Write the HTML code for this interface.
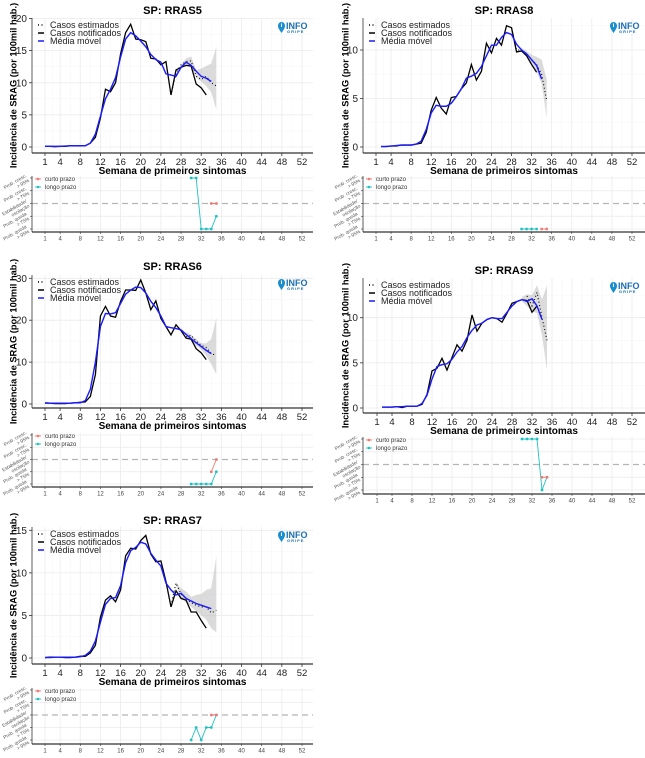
<!DOCTYPE html>
<html><head><meta charset="utf-8">
<style>
html,body{margin:0;padding:0;background:#fff;}
svg{display:block;font-family:"Liberation Sans",sans-serif;}
</style></head>
<body>
<svg id="chart" width="645" height="758" viewBox="0 0 645 758" xmlns="http://www.w3.org/2000/svg"></svg>
<script>
// ---------- data ----------
const weekTicks = [1,4,8,12,16,20,24,28,32,36,40,44,48,52];
const trendLabels = [["Prob. cresc.","> 95%"],["Prob. cresc.","> 75%"],["Estabilidade/","oscilação"],["Prob. queda","> 75%"],["Prob. queda","> 95%"]];
const panelTitles = ["SP: RRAS5","SP: RRAS8","SP: RRAS6","SP: RRAS9","SP: RRAS7"];

// RRAS5
const rras5Start = 1;
const rras5Notified = [0.1,0.1,0.05,0.1,0.1,0.2,0.2,0.2,0.2,0.6,1.5,4.5,9.0,8.6,10.0,14.5,17.8,19.1,16.8,16.7,16.4,13.8,13.7,12.8,13.3,8.1,12.0,12.4,12.7,12.6,9.8,9.2,8.1];
const rras5EstStart = 26;
const rras5Estimated = [8.1,11.5,12.8,13.3,13.4,11.0,10.5,11.0,10.0,9.5];
const rras5MA = [0.1,0.1,0.1,0.1,0.15,0.2,0.2,0.2,0.2,0.6,2.0,4.8,7.5,9.0,10.8,14.0,16.8,17.8,17.3,16.5,15.6,14.4,13.6,13.2,11.4,11.2,11.0,12.4,13.2,12.7,11.8,11.0,10.7,10.2];
const rras5CIStart = 27;
const rras5CILo = [11.0,12.2,12.8,12.5,10.8,10.2,9.5,8.5,5.8];
const rras5CIHi = [11.2,12.8,13.8,14.1,12.0,12.2,12.6,13.0,15.6];
const rras5LongWeeks = [30,31,32,33,34,35];
const rras5Long = [2,2,-2,-2,-2,-1];
const rras5ShortWeeks = [34,35];
const rras5Short = [0,0];
const rras5YTicks = [0,5,10,15,20];

// RRAS8
const rras8Start = 2;
const rras8Notified = [0.05,0.05,0.1,0.1,0.2,0.2,0.2,0.3,0.4,1.5,3.8,5.1,4.0,3.4,5.1,5.2,6.0,6.6,8.5,6.9,7.8,10.7,9.7,11.2,10.5,12.5,12.3,9.8,9.9,9.4,8.5,7.7];
const rras8EstStart = 28;
const rras8Estimated = [12.3,10.0,10.0,9.6,9.0,8.5,7.5,4.8];
const rras8MA = [0.05,0.05,0.1,0.15,0.2,0.2,0.2,0.3,0.6,1.8,3.5,4.3,4.2,4.2,4.5,5.2,6.0,7.1,7.3,7.6,8.3,9.4,10.5,10.5,11.3,11.8,11.6,10.6,10.0,9.6,9.0,8.4,7.0];
const rras8CIStart = 30;
const rras8CILo = [9.8,9.3,8.5,7.8,6.5,3.0];
const rras8CIHi = [10.2,9.9,9.5,9.3,9.0,7.0];
const rras8LongWeeks = [30,31,32,33];
const rras8Long = [-2,-2,-2,-2];
const rras8ShortWeeks = [34,35];
const rras8Short = [-2,-2];
const rras8YTicks = [0,5,10];

// RRAS6
const rras6Start = 1;
const rras6Notified = [0.3,0.2,0.1,0.1,0.1,0.2,0.3,0.4,0.5,1.8,7.0,21.0,23.3,21.0,20.7,24.5,27.2,27.2,27.1,29.6,26.5,22.5,24.6,20.4,18.5,16.5,18.9,17.5,15.7,15.5,13.2,12.2,10.6];
const rras6EstStart = 29;
const rras6Estimated = [16.0,16.4,15.0,14.0,13.5,12.0,11.6];
const rras6MA = [0.2,0.2,0.2,0.2,0.2,0.2,0.3,0.3,0.8,3.5,10.0,18.5,21.6,21.5,21.8,24.0,26.2,27.2,27.9,27.8,26.5,24.5,23.0,21.0,18.5,18.2,18.0,17.7,16.6,15.6,14.6,13.7,12.8,12.0];
const rras6CIStart = 29;
const rras6CILo = [16.0,15.0,14.0,13.0,11.5,9.5,7.0];
const rras6CIHi = [17.2,16.5,15.5,14.5,14.5,15.5,20.6];
const rras6LongWeeks = [30,31,32,33,34,35];
const rras6Long = [-2,-2,-2,-2,-2,-1];
const rras6ShortWeeks = [34,35];
const rras6Short = [-1,0];
const rras6YTicks = [0,10,20,30];

// RRAS9
const rras9Start = 2;
const rras9Notified = [0.1,0.1,0.1,0.15,0.05,0.2,0.2,0.2,0.4,1.5,4.1,4.4,5.5,4.2,5.6,7.0,6.3,7.5,10.3,8.5,9.4,9.8,10.0,9.9,9.5,10.5,11.6,11.8,12.0,11.9,10.6,11.3];
const rras9EstStart = 31;
const rras9Estimated = [12.4,11.3,12.8,10.0,7.5];
const rras9MA = [0.1,0.1,0.1,0.15,0.15,0.2,0.2,0.2,0.5,1.4,3.2,4.6,4.8,4.9,5.4,6.2,6.8,7.8,8.6,9.2,9.4,9.8,10.0,9.9,9.9,10.6,11.3,11.8,12.0,11.8,12.1,11.3,9.8];
const rras9CIStart = 30;
const rras9CILo = [11.8,11.3,10.7,10.5,8.0,4.2];
const rras9CIHi = [12.3,12.6,12.5,13.6,12.0,13.6];
const rras9LongWeeks = [30,31,32,33,34,35];
const rras9Long = [2,2,2,2,-2,-1];
const rras9ShortWeeks = [34,35];
const rras9Short = [-1,-1];
const rras9YTicks = [0,5,10];

// RRAS7
const rras7Start = 1;
const rras7Notified = [0.05,0.1,0.1,0.1,0.05,0.05,0.1,0.2,0.2,0.6,1.5,4.8,6.8,7.3,6.6,8.0,12.0,12.9,12.8,13.8,14.4,12.2,11.3,11.4,9.0,6.0,7.9,7.0,6.8,5.4,5.4,4.4,3.5];
const rras7EstStart = 26;
const rras7Estimated = [6.2,8.8,7.5,7.0,6.5,6.2,6.0,6.0,5.3,5.6];
const rras7MA = [0.05,0.05,0.1,0.1,0.1,0.1,0.1,0.15,0.3,0.8,2.0,4.2,6.3,7.0,7.1,8.5,11.2,12.6,13.0,13.6,13.4,12.3,11.5,10.8,8.8,8.0,7.4,7.6,7.0,6.7,6.4,6.2,6.0,5.8];
const rras7CIStart = 27;
const rras7CILo = [8.5,7.0,6.5,6.0,5.5,5.0,4.5,3.5,3.0];
const rras7CIHi = [8.9,8.2,7.8,7.2,7.4,7.5,8.0,8.2,12.0];
const rras7LongWeeks = [30,31,32,33,34,35];
const rras7Long = [-2,-1,-2,-1,-1,0];
const rras7ShortWeeks = [34,35];
const rras7Short = [0,0];
const rras7YTicks = [0,5,10,15];

// ---------- layout ----------
const panels = [
 {title:panelTitles[0],key:"rras5",start:rras5Start,not:rras5Notified,estStart:rras5EstStart,est:rras5Estimated,ma:rras5MA,ciStart:rras5CIStart,ciLo:rras5CILo,ciHi:rras5CIHi,lw:rras5LongWeeks,lv:rras5Long,sw:rras5ShortWeeks,sv:rras5Short,yt:rras5YTicks,
  L:32,R:313,T:18,AY:153,y0:147,rv:20,rp:18.5,x1:45,x52:302,trT:178,trB:229,trA:232,titleY:14,ylx:13},
 {title:panelTitles[1],key:"rras8",start:rras8Start,not:rras8Notified,estStart:rras8EstStart,est:rras8Estimated,ma:rras8MA,ciStart:rras8CIStart,ciLo:rras8CILo,ciHi:rras8CIHi,lw:rras8LongWeeks,lv:rras8Long,sw:rras8ShortWeeks,sv:rras8Short,yt:rras8YTicks,
  L:363,R:645,T:18,AY:153,y0:147,rv:10,rp:50,x1:376,x52:632,trT:178,trB:229,trA:232,titleY:14,ylx:345},
 {title:panelTitles[2],key:"rras6",start:rras6Start,not:rras6Notified,estStart:rras6EstStart,est:rras6Estimated,ma:rras6MA,ciStart:rras6CIStart,ciLo:rras6CILo,ciHi:rras6CIHi,lw:rras6LongWeeks,lv:rras6Long,sw:rras6ShortWeeks,sv:rras6Short,yt:rras6YTicks,
  L:32,R:313,T:275,AY:408,y0:404,rv:30,rp:278.3,x1:45,x52:302,trT:435,trB:484,trA:487,titleY:270,ylx:13},
 {title:panelTitles[3],key:"rras9",start:rras9Start,not:rras9Notified,estStart:rras9EstStart,est:rras9Estimated,ma:rras9MA,ciStart:rras9CIStart,ciLo:rras9CILo,ciHi:rras9CIHi,lw:rras9LongWeeks,lv:rras9Long,sw:rras9ShortWeeks,sv:rras9Short,yt:rras9YTicks,
  L:363,R:645,T:278,AY:413,y0:408,rv:10,rp:317.7,x1:377,x52:632,trT:439,trB:490,trA:494,titleY:274,ylx:345},
 {title:panelTitles[4],key:"rras7",start:rras7Start,not:rras7Notified,estStart:rras7EstStart,est:rras7Estimated,ma:rras7MA,ciStart:rras7CIStart,ciLo:rras7CILo,ciHi:rras7CIHi,lw:rras7LongWeeks,lv:rras7Long,sw:rras7ShortWeeks,sv:rras7Short,yt:rras7YTicks,
  L:32,R:313,T:527,AY:664,y0:658,rv:15,rp:530.3,x1:45,x52:302,trT:690,trB:740,trA:744,titleY:524,ylx:13}
];

const NS="http://www.w3.org/2000/svg";
const svg=document.getElementById("chart");
function el(tag,attrs,parent,text){const e=document.createElementNS(NS,tag);for(const k in attrs)e.setAttribute(k,attrs[k]);if(text!==undefined)e.textContent=text;(parent||svg).appendChild(e);return e;}

panels.forEach(p=>{
  const g=el("g",{});
  
  
  const xs=w=>p.x1+(w-1)*(p.x52-p.x1)/51;
  const ys=v=>p.y0-(v)*(p.y0-p.rp)/p.rv;
  const ty=l=>p.trT+(2-l)*(p.trB-p.trT)/4;
  const grid=el("g",{},g);
  
  
  for(let i=0;i<weekTicks.length;i++){
    const x=xs(weekTicks[i]);
    el("line",{x1:x,x2:x,y1:p.T,y2:p.AY,stroke:"#ebebeb","stroke-width":0.8},grid);
    el("line",{x1:x,x2:x,y1:p.trT-2,y2:p.trA,stroke:"#ebebeb","stroke-width":0.8},grid);
    if(i<weekTicks.length-1){const xm=(x+xs(weekTicks[i+1]))/2;
      el("line",{x1:xm,x2:xm,y1:p.T,y2:p.AY,stroke:"#f5f5f5","stroke-width":0.5},grid);}
  }
  const step=p.yt[1]-p.yt[0];
  p.yt.forEach(v=>{
    el("line",{x1:p.L,x2:p.R,y1:ys(v),y2:ys(v),stroke:"#ebebeb","stroke-width":0.8},grid);
    const ym=ys(v+step/2); if(ym>p.T) el("line",{x1:p.L,x2:p.R,y1:ym,y2:ym,stroke:"#f5f5f5","stroke-width":0.5},grid);
  });
  for(let l=2;l>=-2;l--){ if(l!==0) el("line",{x1:p.L,x2:p.R,y1:ty(l),y2:ty(l),stroke:"#ebebeb","stroke-width":0.8},grid);}
  const t=el("text",{x:(p.L+p.R)/2,y:p.titleY,"text-anchor":"middle","font-size":11,"font-weight":"bold",fill:"#000"},g,p.title);
  
  
  let d="";
  p.ciHi.forEach((v,i)=>{d+=(i?"L":"M")+xs(p.ciStart+i)+","+ys(v);});
  for(let i=p.ciLo.length-1;i>=0;i--)d+="L"+xs(p.ciStart+i)+","+ys(p.ciLo[i]);
  const ci=el("path",{d:d+"Z",fill:"#bdbdbd","fill-opacity":0.55,stroke:"none"},g);
  
  
  const line=(arr,st)=>arr.map((v,i)=>(i?"L":"M")+xs(st+i)+","+ys(v)).join("");
  const n=el("path",{d:line(p.not,p.start),fill:"none",stroke:"#000","stroke-width":1.3},g);
  
  
  const e=el("path",{d:line(p.est,p.estStart),fill:"none",stroke:"#000","stroke-width":1.1,"stroke-dasharray":"1,2.5"},g);
  
  
  const m=el("path",{d:line(p.ma,p.start),fill:"none",stroke:"#1a1aff","stroke-width":1.4},g);
  
  
  el("line",{x1:p.L,x2:p.L,y1:p.T,y2:p.AY,stroke:"#333","stroke-width":0.8},g);
  el("line",{x1:p.L,x2:p.R,y1:p.AY,y2:p.AY,stroke:"#333","stroke-width":1.2},g);
  p.yt.forEach(v=>{
    el("line",{x1:p.L-3,x2:p.L,y1:ys(v),y2:ys(v),stroke:"#333","stroke-width":0.8},g);
    const tl=el("text",{x:p.L-5,y:ys(v)+3.5,"text-anchor":"end","font-size":10,fill:"#222"},g,String(v));
    
    
  });
  weekTicks.forEach(w=>{
    el("line",{x1:xs(w),x2:xs(w),y1:p.AY,y2:p.AY+3,stroke:"#333","stroke-width":0.8},g);
    const tl=el("text",{x:xs(w),y:p.AY+12,"text-anchor":"middle","font-size":9.5,fill:"#222"},g,String(w));
    
    
    el("line",{x1:xs(w),x2:xs(w),y1:p.trA,y2:p.trA+2,stroke:"#333","stroke-width":0.6},g);
    const t2=el("text",{x:xs(w),y:p.trA+8.5,"text-anchor":"middle","font-size":6,fill:"#444"},g,String(w));
    
    
  });
  const xt=el("text",{x:(p.L+p.R)/2,y:p.AY+21,"text-anchor":"middle","font-size":10,"font-weight":"bold",fill:"#000"},g,"Semana de primeiros sintomas");
  
  
  const yc=(p.T+p.AY)/2;
  const yt=el("text",{x:p.ylx,y:yc,"text-anchor":"middle","font-size":9.3,"font-weight":"bold",fill:"#000",transform:`rotate(-90 ${p.ylx} ${yc}) translate(0 3.5)`},g,"Incidência de SRAG (por 100mil hab.)");
  
  
  const lg=el("g",{},g);
  
  
  const lx=p.L+6, ly=p.T+10;
  [["Casos estimados","#000","1,2.5"],["Casos notificados","#000",""],["Média móvel","#1a1aff",""]].forEach((it,i)=>{
    el("line",{x1:lx,x2:lx+6,y1:ly+i*8-3,y2:ly+i*8-3,stroke:it[1],"stroke-width":1.5,"stroke-dasharray":it[2]},lg);
    const lt=el("text",{x:lx+12,y:ly+i*8,"font-size":9,fill:"#222"},lg,it[0]);
    
    
  });
  const lgo=el("g",{},g);
  
  
  const lgx=p.R-35, lgy=p.T+4;
  el("path",{d:`M${lgx+3.5},${lgy+11} C${lgx},${lgy+6} ${lgx},${lgy+5} ${lgx},${lgy+3.5} A3.5,3.5 0 1 1 ${lgx+7},${lgy+3.5} C${lgx+7},${lgy+5} ${lgx+7},${lgy+6} ${lgx+3.5},${lgy+11}Z`,fill:"#1a8fd0"},lgo);
  el("rect",{x:lgx+3,y:lgy+1.5,width:1,height:3.5,fill:"#fff"},lgo);
  el("text",{x:lgx+8,y:lgy+7,"font-size":9,"font-weight":"bold",fill:"#1a6fb5"},lgo,"INFO");
  el("text",{x:lgx+9,y:lgy+11,"font-size":4,"font-weight":"bold",fill:"#1a6fb5","letter-spacing":"1"},lgo,"GRIPE");
  const tg=el("g",{},g);
  
  
  el("line",{x1:p.L,x2:p.R,y1:ty(0),y2:ty(0),stroke:"#b5b5b5","stroke-width":1.2,"stroke-dasharray":"6,4"},tg);
  el("line",{x1:p.L,x2:p.L,y1:p.trT-2,y2:p.trA,stroke:"#333","stroke-width":0.8},tg);
  el("line",{x1:p.L,x2:p.R,y1:p.trA,y2:p.trA,stroke:"#333","stroke-width":1.2},tg);
  for(let l=2;l>=-2;l--){
    const yy=ty(l);
    el("line",{x1:p.L-2,x2:p.L,y1:yy,y2:yy,stroke:"#333","stroke-width":0.6},tg);
    const lab=trendLabels[2-l];
    const tx=el("text",{"font-size":4.8,fill:"#555","text-anchor":"end",transform:`translate(${p.L-3} ${yy+2}) rotate(-30)`},tg);
    
    
    el("tspan",{x:0,y:-4},tx,lab[0]);
    el("tspan",{x:0,y:1.5},tx,lab[1]);
  }
  const tline=(ws,vs,c,name)=>{
    const pth=el("path",{d:ws.map((w,i)=>(i?"L":"M")+xs(w)+","+ty(vs[i])).join(""),fill:"none",stroke:c,"stroke-width":0.9},tg);
    
    
    ws.forEach((w,i)=>{
      const c0=el("circle",{cx:xs(w),cy:ty(vs[i]),r:1.4,fill:c},tg);
      
      
    });
  };
  tline(p.lw,p.lv,"#1fc2c2","long-term-trend");
  tline(p.sw,p.sv,"#f07a72","short-term-trend");
  [["curto prazo","#f07a72"],["longo prazo","#1fc2c2"]].forEach((it,i)=>{
    const yy=p.trT+3+i*8;
    el("line",{x1:p.L+3,x2:p.L+9,y1:yy-2,y2:yy-2,stroke:it[1],"stroke-width":0.9},tg);
    el("circle",{cx:p.L+6,cy:yy-2,r:1.3,fill:it[1]},tg);
    const lt=el("text",{x:p.L+13,y:yy,"font-size":6,fill:"#333"},tg,it[0]);
    
    
  });
});
</script>
</body></html>
